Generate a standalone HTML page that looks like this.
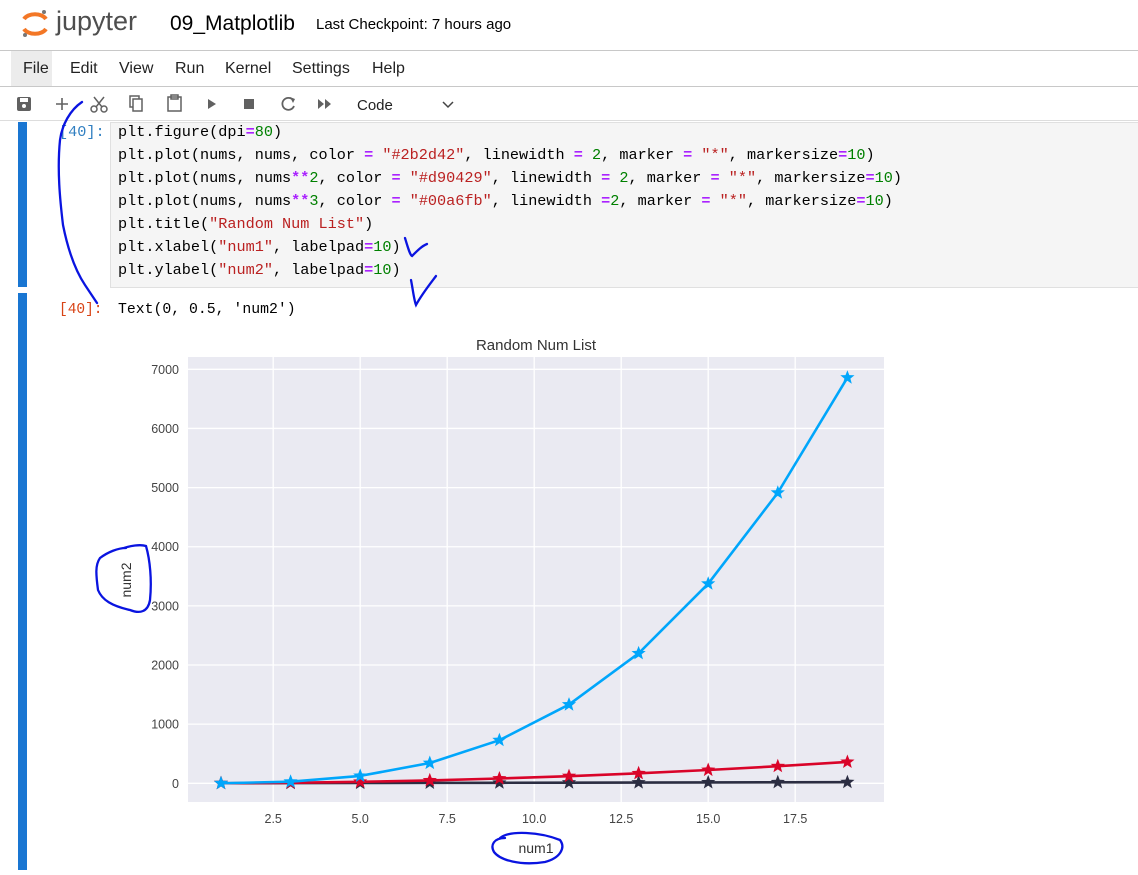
<!DOCTYPE html>
<html><head><meta charset="utf-8">
<style>
body{margin:0;width:1138px;height:875px;overflow:hidden;background:#fff;font-family:"Liberation Sans",sans-serif;position:relative}
.abs{position:absolute}
.mono{font-family:"Liberation Mono",monospace;font-size:15.2px;white-space:pre}
.menu span{position:absolute;top:60px;font-size:16px;color:#222}
.code div{position:absolute;left:118px}
.k{color:#aa22ff;font-weight:bold}.s{color:#ba2121}.n{color:#008000}
</style></head><body>
<div class="abs" style="left:20px;top:8px;width:30px;height:30px">
<svg width="30" height="30"><path d="M4 11 A12 8 0 0 1 26 11" stroke="#f37726" stroke-width="4" fill="none"/><path d="M4 21 A12 8 0 0 0 26 21" stroke="#f37726" stroke-width="4" fill="none"/><circle cx="24" cy="4" r="2" fill="#767677"/><circle cx="5" cy="27" r="2" fill="#767677"/></svg></div>
<div class="abs" style="left:56px;top:6px;font-size:27px;color:#4e4e4e">jupyter</div>
<div class="abs" style="left:170px;top:12px;font-size:21px;color:#000">09_Matplotlib</div>
<div class="abs" style="left:316px;top:16px;font-size:15px;color:#000">Last Checkpoint: 7 hours ago</div>
<div class="abs" style="left:0;top:50px;width:1138px;height:1px;background:#c8c8c8"></div>
<div class="abs" style="left:11px;top:51px;width:41px;height:35px;background:#ececec"></div>
<div class="menu">
<span style="left:23px">File</span>
<span style="left:70px">Edit</span>
<span style="left:119px">View</span>
<span style="left:175px">Run</span>
<span style="left:225px">Kernel</span>
<span style="left:292px">Settings</span>
<span style="left:372px">Help</span>
</div>
<div class="abs" style="left:0;top:86px;width:1138px;height:1px;background:#c8c8c8"></div>
<svg class="abs" style="left:0;top:88px" width="480" height="32">
<rect x="17" y="9" width="14" height="14" rx="2" fill="#616161"/><rect x="20" y="10" width="8" height="4" fill="#fff"/><circle cx="24" cy="18" r="2" fill="#fff"/>
<path d="M62 10v12M56 16h12" stroke="#616161" stroke-width="1.6"/>
<g stroke="#616161" stroke-width="1.5" fill="none"><circle cx="94" cy="21" r="3"/><circle cx="104" cy="21" r="3"/><path d="M96 19l8-10M102 19l-8-10"/></g>
<g stroke="#616161" stroke-width="1.5" fill="none"><rect x="130" y="8" width="9" height="11"/><rect x="133" y="11" width="9" height="12" fill="#fff"/></g>
<g stroke="#616161" stroke-width="1.5" fill="none"><rect x="168" y="9" width="13" height="14"/><rect x="171" y="7" width="7" height="4"/></g>
<path d="M208 11l8 5-8 5z" fill="#616161"/>
<rect x="244" y="11" width="10" height="10" fill="#616161"/>
<path d="M293 12a6 6 0 1 0 1 6" stroke="#616161" stroke-width="1.8" fill="none"/><path d="M290 9l5 2-2 4z" fill="#616161"/>
<path d="M318 11l6 5-6 5zM325 11l6 5-6 5z" fill="#616161"/>
<text x="357" y="22" font-size="15" fill="#222" font-family="Liberation Sans">Code</text>
<path d="M443 14l5 5 5-5" stroke="#444" stroke-width="1.5" fill="none"/>
</svg>
<div class="abs" style="left:0;top:120px;width:1138px;height:1px;background:#ddd"></div>
<div class="abs" style="left:18px;top:122px;width:9px;height:165px;background:#1976d2"></div>
<div class="abs" style="left:18px;top:293px;width:9px;height:577px;background:#1976d2"></div>
<div class="abs" style="left:110px;top:122px;width:1028px;height:164px;background:#f5f5f5;border:1px solid #e0e0e0"></div>
<div class="abs mono" style="left:59px;top:123px;color:#307fc1">[40]:</div>
<div class="code mono">
<div style="top:123px">plt.figure(dpi<span class="k">=</span><span class="n">80</span>)</div>
<div style="top:146px">plt.plot(nums, nums, color <span class="k">=</span> <span class="s">"#2b2d42"</span>, linewidth <span class="k">=</span> <span class="n">2</span>, marker <span class="k">=</span> <span class="s">"*"</span>, markersize<span class="k">=</span><span class="n">10</span>)</div>
<div style="top:169px">plt.plot(nums, nums<span class="k">**</span><span class="n">2</span>, color <span class="k">=</span> <span class="s">"#d90429"</span>, linewidth <span class="k">=</span> <span class="n">2</span>, marker <span class="k">=</span> <span class="s">"*"</span>, markersize<span class="k">=</span><span class="n">10</span>)</div>
<div style="top:192px">plt.plot(nums, nums<span class="k">**</span><span class="n">3</span>, color <span class="k">=</span> <span class="s">"#00a6fb"</span>, linewidth <span class="k">=</span><span class="n">2</span>, marker <span class="k">=</span> <span class="s">"*"</span>, markersize<span class="k">=</span><span class="n">10</span>)</div>
<div style="top:215px">plt.title(<span class="s">"Random Num List"</span>)</div>
<div style="top:238px">plt.xlabel(<span class="s">"num1"</span>, labelpad<span class="k">=</span><span class="n">10</span>)</div>
<div style="top:261px">plt.ylabel(<span class="s">"num2"</span>, labelpad<span class="k">=</span><span class="n">10</span>)</div>
</div>
<div class="abs mono" style="left:59px;top:302px;color:#d84315;font-size:14.5px">[40]:</div>
<div class="abs mono" style="left:118px;top:302px;color:#000;font-size:14.8px">Text(0, 0.5, 'num2')</div>

<svg id="chart" class="abs" style="left:0;top:0" width="1138" height="875"></svg>

<script>
const nums = [1,3,5,7,9,11,13,15,17,19];
const linearVals = [1,3,5,7,9,11,13,15,17,19];
const squareVals = [1,9,25,49,81,121,169,225,289,361];
const cubeVals = [1,27,125,343,729,1331,2197,3375,4913,6859];
const xTicks = [2.5,5.0,7.5,10.0,12.5,15.0,17.5];
const xTickLabels = ["2.5","5.0","7.5","10.0","12.5","15.0","17.5"];
const yTicks = [0,1000,2000,3000,4000,5000,6000,7000];
const yTickLabels = ["0","1000","2000","3000","4000","5000","6000","7000"];

const NS="http://www.w3.org/2000/svg";
const svg=document.getElementById('chart');
const L=188,R=884,T=357,B=802;
const xs=v=>221+(v-1)*34.8;
const ys=v=>783.3-v*0.05914;
function mk(tag,attrs,parent){const e=document.createElementNS(NS,tag);for(const k in attrs)e.setAttribute(k,attrs[k]);(parent||svg).appendChild(e);return e;}
const bg=mk('rect',{x:L,y:T,width:R-L,height:B-T,fill:'#eaeaf2'});


xTicks.forEach((t,i)=>{
  const g=mk('line',{x1:xs(t),x2:xs(t),y1:T,y2:B,stroke:'#fff','stroke-width':1.3});
  
  
  const tx=mk('text',{x:xs(t),y:823,'text-anchor':'middle','font-size':12.5,fill:'#444','font-family':'Liberation Sans'});
  tx.textContent=xTickLabels[i];
  
  
});
yTicks.forEach((t,i)=>{
  const g=mk('line',{x1:L,x2:R,y1:ys(t),y2:ys(t),stroke:'#fff','stroke-width':1.3});
  
  
  const tx=mk('text',{x:179,y:ys(t)+4.5,'text-anchor':'end','font-size':12.5,fill:'#444','font-family':'Liberation Sans'});
  tx.textContent=yTickLabels[i];
  
  
});
function star(cx,cy,r){let p=[];for(let i=0;i<10;i++){const a=-Math.PI/2+i*Math.PI/5;const rr=i%2?r*0.42:r;p.push((cx+rr*Math.cos(a)).toFixed(1)+','+(cy+rr*Math.sin(a)).toFixed(1));}return p.join(' ');}
function series(vals,color,name){
  const pl=mk('polyline',{points:nums.map((x,i)=>xs(x)+','+ys(vals[i])).join(' '),fill:'none',stroke:color,'stroke-width':2.6,'stroke-linejoin':'round'});
  
  
  nums.forEach((x,i)=>{
    const s=mk('polygon',{points:star(xs(x),ys(vals[i]),7.5),fill:color});
    
    
  });
}
series(linearVals,'#2b2d42','linear-series');
series(squareVals,'#d90429','square-series');
series(cubeVals,'#00a6fb','cube-series');
const title=mk('text',{x:(L+R)/2,y:350,'text-anchor':'middle','font-size':15,fill:'#333','font-family':'Liberation Sans'});
title.textContent='Random Num List';


const xl=mk('text',{x:(L+R)/2,y:853,'text-anchor':'middle','font-size':14,fill:'#333','font-family':'Liberation Sans'});
xl.textContent='num1';


const yl=mk('text',{x:0,y:0,'text-anchor':'middle','font-size':14,fill:'#333','font-family':'Liberation Sans',transform:'translate(131,580) rotate(-90)'});
yl.textContent='num2';


const ann=mk('g',{stroke:'#0a14e0','stroke-width':2.3,fill:'none','stroke-linecap':'round'});


mk('path',{d:'M82 102 C70 110 62 125 60 140 C57 170 60 200 63 225 C68 250 75 270 85 285 L97 303'},ann);
mk('path',{d:'M124 548 C130 546 140 544 146 546 C150 560 152 580 150 600 C148 612 140 614 130 610 C112 606 102 600 98 590 C96 575 95 565 100 558 C108 552 118 548 126 548'},ann);
mk('path',{d:'M500 838 C510 830 540 832 560 840 C566 848 560 858 545 862 C520 866 500 860 494 852 C490 845 494 838 505 838'},ann);
mk('path',{d:'M405 238 C408 248 410 255 412 256 C418 250 422 246 427 244'},ann);
mk('path',{d:'M411 280 C413 290 414 300 416 305 C422 294 430 284 436 276'},ann);
</script>
</body></html>
